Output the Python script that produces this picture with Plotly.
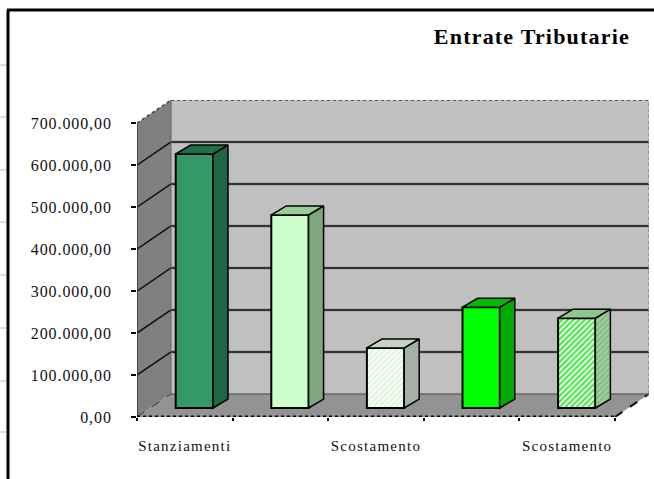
import plotly.graph_objects as go

W, H = 654, 479
ML, MR, MT, MB = 137, 5, 100, 62

categories = ["Stanziamenti", "", "Scostamento", "", "Scostamento"]
values = [605000, 460000, 143000, 240000, 214000]
front_colors = ["#339966", "#ccffcc", "#ffffff", "#00ff00", "#ffffff"]
side_colors = ["#1f6644", "#7fa67f", "#a3b3a3", "#00aa00", "#a8c8a8"]
top_colors = ["#1f7048", "#99cc99", "#c4d4c4", "#00bb00", "#8cc88c"]
hatch_colors = [None, None, "#dcf7dc", None, "#4fe64f"]
y_ticks = [0, 100000, 200000, 300000, 400000, 500000, 600000, 700000]
y_labels = ["0,00", "100.000,00", "200.000,00", "300.000,00", "400.000,00",
            "500.000,00", "600.000,00", "700.000,00"]
edge_marks_px = [65, 117, 170, 222, 275, 328, 381, 432]

WALL_DX, WALL_DY = 0.356, 55000
BAR_DX, BAR_DY = 0.157, 21400
BAR_SHIFT, BAR_W = 0.10, 0.39
X_MAX = len(categories) + WALL_DX
Y_MAX = y_ticks[-1] + WALL_DY
SERIF = "Liberation Serif"

fig = go.Figure()
shapes = []


def poly(pts):
    return "M " + " L ".join(f"{x} {y}" for x, y in pts) + " Z"


def add_shape(path, fill):
    shapes.append(dict(type="path", path=path, xref="x", yref="y", layer="below",
                       fillcolor=fill, line=dict(color=fill, width=0)))


def add_line(x0, y0, x1, y1, color="#1a1a1a", width=2, dash="solid"):
    shapes.append(dict(type="line", xref="x", yref="y", layer="below", x0=x0, y0=y0, x1=x1, y1=y1,
                       line=dict(color=color, width=width, dash=dash)))


n = len(categories)
add_shape(poly([(WALL_DX, WALL_DY), (X_MAX, WALL_DY), (X_MAX, Y_MAX), (WALL_DX, Y_MAX)]), "#c0c0c0")
add_shape(poly([(0, 0), (WALL_DX, WALL_DY), (WALL_DX, Y_MAX), (0, y_ticks[-1])]), "#808080")
add_shape(poly([(0, 0), (n, 0), (X_MAX, WALL_DY), (WALL_DX, WALL_DY)]), "#939393")
for v in y_ticks[1:-1]:
    add_line(WALL_DX, v + WALL_DY, X_MAX, v + WALL_DY, color="#9a9a9a", width=3)
    add_line(WALL_DX, v + WALL_DY, X_MAX, v + WALL_DY, color="#111111", width=1.5)
    add_line(0, v, WALL_DX, v + WALL_DY, color="#111111", width=1.5)
add_line(0, 0, WALL_DX, WALL_DY, color="#333333", width=1, dash="dash")
add_line(n, 0, X_MAX, WALL_DY, color="#111111", width=2, dash="dash")
add_line(WALL_DX, Y_MAX, X_MAX, Y_MAX, color="#555555", width=2, dash="dot")
add_line(0, y_ticks[-1], WALL_DX, Y_MAX, color="#444444", width=1.5, dash="dot")
add_line(X_MAX, WALL_DY, X_MAX, Y_MAX, color="#909090", width=2, dash="dot")
add_line(WALL_DX, WALL_DY, X_MAX, WALL_DY, color="#666666", width=1.5)
add_line(WALL_DX, WALL_DY, WALL_DX, Y_MAX, color="#666666", width=1)
add_line(0, 0, 0, y_ticks[-1], color="#333333", width=1.5)
add_line(0, 0, n, 0, color="#000000", width=3, dash="dot")


def px_x(p):
    return (p - ML) / (W - ML - MR)


def px_y(p):
    return 1 - (p - MT) / (H - MT - MB)


for p in edge_marks_px:
    shapes.append(dict(type="line", xref="paper", yref="paper", x0=px_x(0), x1=px_x(7), y0=px_y(p), y1=px_y(p),
                       line=dict(color="#d9deeb", width=2)))
shapes.append(dict(type="line", xref="paper", yref="paper", x0=px_x(8), x1=px_x(8), y0=px_y(10), y1=px_y(479),
                   line=dict(color="#000000", width=3)))
shapes.append(dict(type="line", xref="paper", yref="paper", x0=px_x(7), x1=px_x(654), y0=px_y(10), y1=px_y(10),
                   line=dict(color="#000000", width=3)))

xs = [i + 0.5 + BAR_SHIFT for i in range(n)]

for x, v, fc, hc in zip(xs, values, front_colors, hatch_colors):
    marker = dict(color=fc, line=dict(color="#000000", width=2))
    if hc:
        marker["pattern"] = dict(shape="/", fgcolor=hc, bgcolor=fc, size=4, solidity=0.55, fillmode="replace")
    fig.add_trace(go.Bar(x=[x], y=[v], base=[BAR_DY], width=BAR_W, marker=marker,
                         showlegend=False, hoverinfo="skip"))

for x, v, sc, tc, hc in zip(xs, values, side_colors, top_colors, hatch_colors):
    xr = x + BAR_W / 2
    xl = x - BAR_W / 2
    top = BAR_DY + v
    side_kw = dict(fillpattern=dict(shape="/", fgcolor="#44bb44", bgcolor=sc, size=4, solidity=0.4)) if hc == "#4fe64f" else {}
    fig.add_trace(go.Scatter(
        x=[xr, xr + BAR_DX, xr + BAR_DX, xr, xr],
        y=[BAR_DY, BAR_DY * 2, top + BAR_DY, top, BAR_DY],
        mode="lines", fill="toself", fillcolor=sc, line=dict(color="#000000", width=1.5),
        showlegend=False, hoverinfo="skip", **side_kw,
    ))
    fig.add_trace(go.Scatter(
        x=[xl, xl + BAR_DX, xr + BAR_DX, xr, xl],
        y=[top, top + BAR_DY, top + BAR_DY, top, top],
        mode="lines", fill="toself", fillcolor=tc, line=dict(color="#000000", width=1.5),
        showlegend=False, hoverinfo="skip",
    ))

fig.update_layout(
    width=W, height=H, autosize=False,
    margin=dict(l=ML, r=MR, t=MT, b=MB),
    paper_bgcolor="#ffffff", plot_bgcolor="rgba(0,0,0,0)",
    shapes=shapes, showlegend=False, barmode="overlay",
    title=dict(text="<b>Entrate Tributarie</b>", x=630 / W, xanchor="right", xref="container",
               y=1 - 36 / H, yanchor="middle", yref="container",
               font=dict(family=SERIF, size=22, color="#000000")),
    font=dict(family=SERIF, color="#111111"),
    xaxis=dict(range=[0, X_MAX], showgrid=False, zeroline=False, showline=False,
               tickmode="array", tickvals=[i + 0.5 for i in range(n)], ticktext=categories,
               ticks="", ticklabelstandoff=18, tickfont=dict(family=SERIF, size=15),
               minor=dict(tickmode="array", tickvals=list(range(n + 1)), ticks="outside", ticklen=3,
                          tickwidth=2, tickcolor="#000000", showgrid=False)),
    yaxis=dict(range=[0, Y_MAX], showgrid=False, zeroline=False, showline=False,
               tickmode="array", tickvals=y_ticks, ticktext=y_labels, ticks="outside", ticklen=5,
               tickwidth=2, tickcolor="#000000", ticklabelstandoff=16, tickfont=dict(family=SERIF, size=16)),
)

# The source page has no body margin and its text is set with wide tracking.
post = """
document.body.style.margin = '0';
document.querySelectorAll('.xtick text').forEach(t => t.style.letterSpacing = '1.25px');
document.querySelectorAll('.ytick text').forEach(t => t.style.letterSpacing = '0.9px');
document.querySelectorAll('.gtitle').forEach(t => t.style.letterSpacing = '1.2px');
"""
fig.write_html("out.html", config=dict(displayModeBar=False), post_script=post)
